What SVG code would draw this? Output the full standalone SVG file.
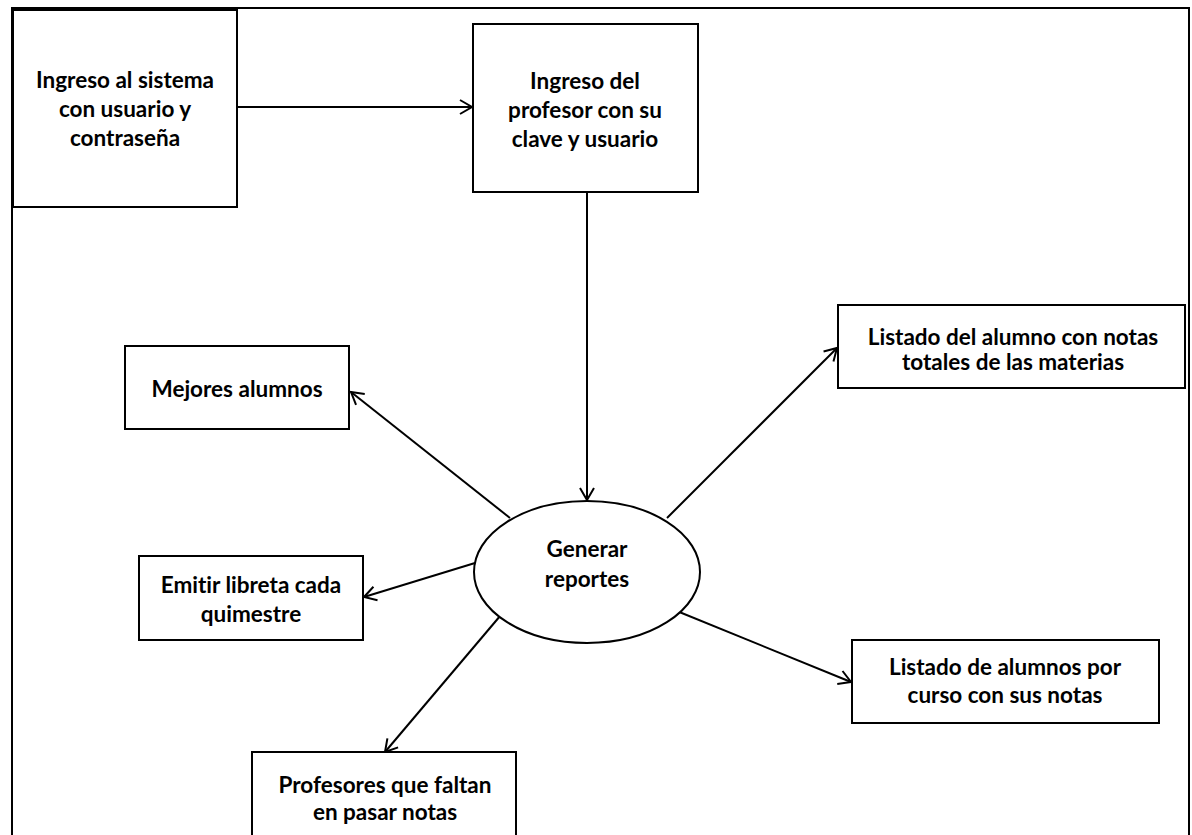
<svg xmlns="http://www.w3.org/2000/svg" width="1192" height="835" viewBox="0 0 1192 835">
  <style>
    .box { fill: #ffffff; stroke: #000000; stroke-width: 2; }
    .frame { fill: none; stroke: #000000; stroke-width: 2; }
    .lbl { font-family: Lato, "Open Sans", "Liberation Sans", sans-serif; font-weight: bold; font-size: 22.5px; fill: #000000; text-anchor: middle; font-variant-ligatures: none; }
    .conn { fill: none; stroke: #000000; stroke-width: 2; marker-end: url(#arrow); }
  </style>
  <defs>
    <marker id="arrow" markerUnits="userSpaceOnUse" markerWidth="20" markerHeight="20" viewBox="-14 -10 16 20" refX="0" refY="0" orient="auto">
      <path d="M -12 -7 L 0 0 L -12 7" fill="none" stroke="#000000" stroke-width="2"/>
    </marker>
  </defs>

  <rect x="0" y="0" width="1192" height="835" fill="#ffffff"/>
  <!-- page frame -->
  <rect class="frame" x="12" y="8" width="1177" height="840"/>

  <!-- connectors -->
  <g id="connectors">
    <line class="conn" x1="237" y1="107" x2="472" y2="107"/>
    <line class="conn" x1="587" y1="192" x2="587" y2="500"/>
    <line class="conn" x1="510" y1="518" x2="351" y2="392"/>
    <line class="conn" x1="475" y1="563" x2="364" y2="597"/>
    <line class="conn" x1="506" y1="609" x2="385" y2="752"/>
    <line class="conn" x1="667" y1="518" x2="837" y2="348"/>
    <line class="conn" x1="667" y1="607" x2="851" y2="682"/>
  </g>

  <g id="login">
    <rect class="box" x="13" y="10" width="224" height="197"/>
    <text class="lbl" x="125" y="88">Ingreso al sistema</text>
    <text class="lbl" x="125" y="117">con usuario y</text>
    <text class="lbl" x="125" y="146">contraseña</text>
  </g>

  <g id="teacher-login">
    <rect class="box" x="473" y="24" width="225" height="168"/>
    <text class="lbl" x="585" y="89">Ingreso del</text>
    <text class="lbl" x="585" y="118">profesor con su</text>
    <text class="lbl" x="585" y="147">clave y usuario</text>
  </g>

  <g id="reports">
    <ellipse class="box" cx="587" cy="572" rx="113" ry="71"/>
    <text class="lbl" x="587" y="557">Generar</text>
    <text class="lbl" x="587" y="587">reportes</text>
  </g>

  <g id="best-students">
    <rect class="box" x="125" y="346" width="224" height="83"/>
    <text class="lbl" x="237" y="397">Mejores alumnos</text>
  </g>

  <g id="report-card">
    <rect class="box" x="139" y="556" width="224" height="84"/>
    <text class="lbl" x="251" y="593">Emitir libreta cada</text>
    <text class="lbl" x="251" y="622">quimestre</text>
  </g>

  <g id="pending-teachers">
    <rect class="box" x="252" y="752" width="264" height="100"/>
    <text class="lbl" x="385" y="793">Profesores que faltan</text>
    <text class="lbl" x="385" y="820">en pasar notas</text>
  </g>

  <g id="student-totals">
    <rect class="box" x="838" y="305" width="347" height="83"/>
    <text class="lbl" x="1013" y="345">Listado del alumno con notas</text>
    <text class="lbl" x="1013" y="370">totales de las materias</text>
  </g>

  <g id="course-list">
    <rect class="box" x="852" y="640" width="307" height="83"/>
    <text class="lbl" x="1005" y="675">Listado de alumnos por</text>
    <text class="lbl" x="1005" y="703">curso con sus notas</text>
  </g>
</svg>
